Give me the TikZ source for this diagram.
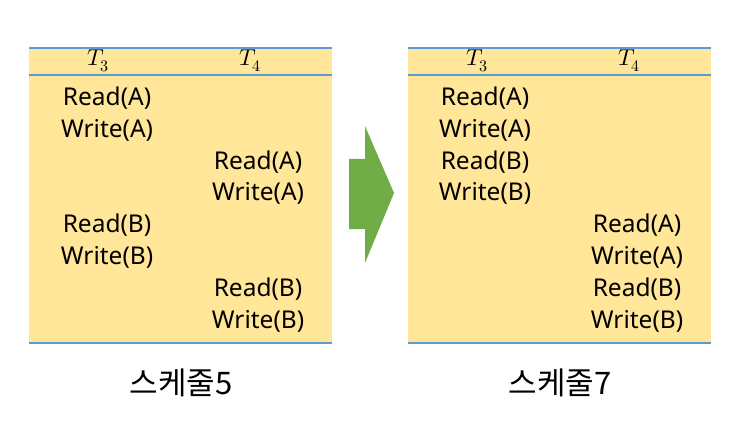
\documentclass[tikz,border=0pt]{standalone}
\usepackage{unicode-math}
\setmainfont{Noto Sans}
\setmathfont{Latin Modern Math}
\newfontfamily\kr{Noto Sans CJK KR}
\definecolor{tablefill}{HTML}{FFE699}
\definecolor{rule}{HTML}{5B9BD5}
\definecolor{arrowgreen}{HTML}{70AD47}
\begin{document}
\begin{tikzpicture}[x=1pt,y=-1pt,
  op/.style={font=\fontsize{24.5}{24.5}\selectfont, inner sep=0pt, anchor=center},
  hd/.style={font=\fontsize{23}{23}\selectfont, inner sep=0pt, anchor=center},
  captext/.style={font=\kr\fontsize{31}{31}\selectfont, inner sep=0pt, anchor=center},
  rl/.style={draw=rule, line width=1.2pt}]
\useasboundingbox (0,0) rectangle (742,433);
% left table
\fill[tablefill] (29,48) rectangle (332,343);
\draw[rl] (29,48) -- (332,48);
\draw[rl] (29,75) -- (332,75);
\draw[rl] (29,343) -- (332,343);
\node[hd] (lh3) at (98,61) {$T_3$};
\node[hd] (lh4) at (250,61) {$T_4$};
\node[op] (l1) at (107,98) {Read(A)};
\node[op] (l2) at (107,130) {Write(A)};
\node[op] (l3) at (258,162) {Read(A)};
\node[op] (l4) at (258,193) {Write(A)};
\node[op] (l5) at (107,225) {Read(B)};
\node[op] (l6) at (107,257) {Write(B)};
\node[op] (l7) at (258,289) {Read(B)};
\node[op] (l8) at (258,321) {Write(B)};
\node[captext] (lc) at (181,383) {스케줄5};
% arrow
\fill[arrowgreen] (349,159) -- (365,159) -- (365,126) -- (394,193) -- (365,263) -- (365,229) -- (349,229) -- cycle;
% right table
\fill[tablefill] (408,48) rectangle (711,343);
\draw[rl] (408,48) -- (711,48);
\draw[rl] (408,75) -- (711,75);
\draw[rl] (408,343) -- (711,343);
\node[hd] (rh3) at (477,61) {$T_3$};
\node[hd] (rh4) at (629,61) {$T_4$};
\node[op] (r1) at (485,98) {Read(A)};
\node[op] (r2) at (485,130) {Write(A)};
\node[op] (r3) at (485,162) {Read(B)};
\node[op] (r4) at (485,193) {Write(B)};
\node[op] (r5) at (637,225) {Read(A)};
\node[op] (r6) at (637,257) {Write(A)};
\node[op] (r7) at (637,289) {Read(B)};
\node[op] (r8) at (637,321) {Write(B)};
\node[captext] (rc) at (560,383) {스케줄7};
\end{tikzpicture}
\end{document}
